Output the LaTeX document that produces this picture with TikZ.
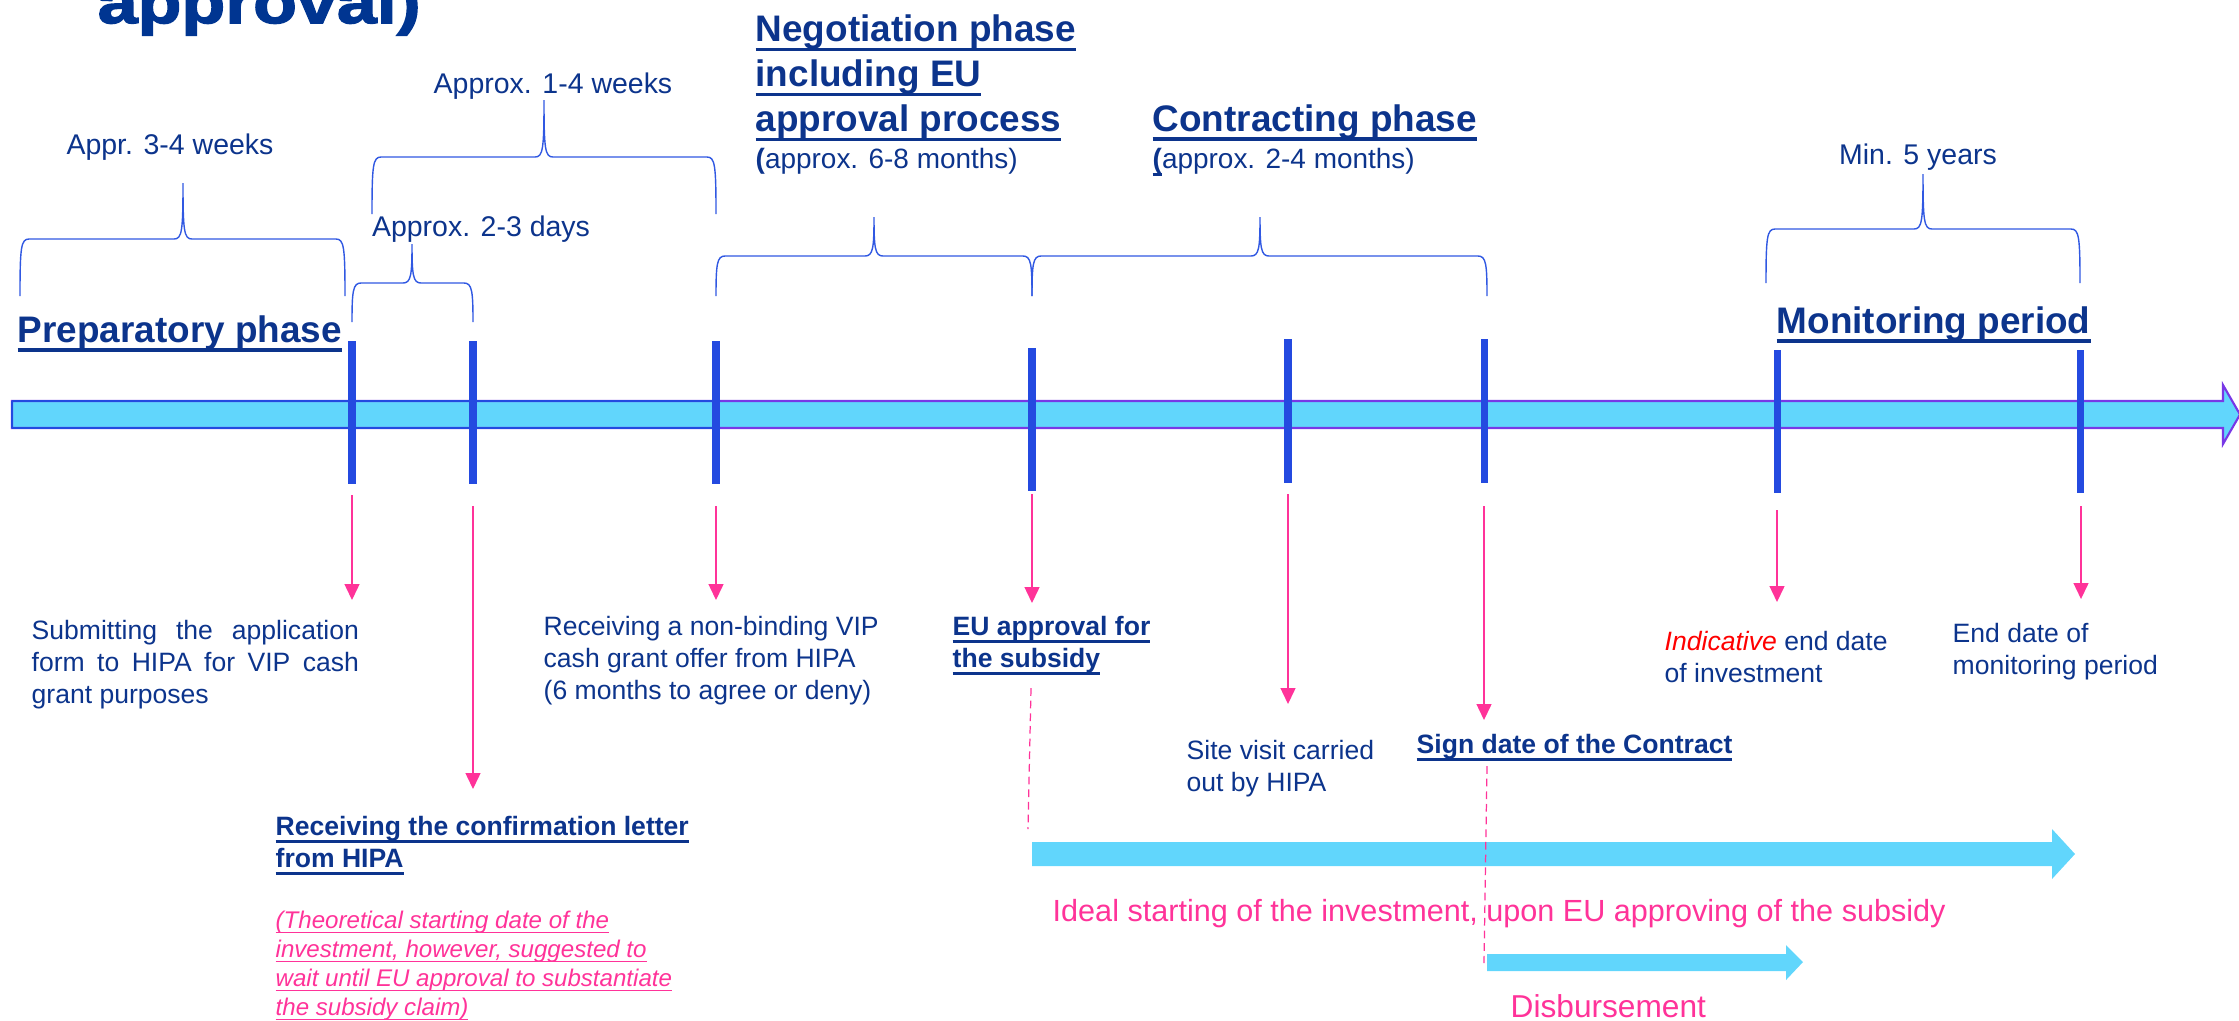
\documentclass[tikz,border=0pt]{standalone}
\usepackage{fontspec}
\setmainfont{Liberation Sans}
\newfontfamily\ttlfont[FakeStretch=1.2,FakeBold=2.5]{Liberation Sans Bold}
\usetikzlibrary{arrows.meta}
\definecolor{navy}{RGB}{12,52,140}
\definecolor{ttlblue}{RGB}{0,53,145}
\definecolor{tickblue}{RGB}{36,74,224}
\definecolor{brblue}{RGB}{48,88,226}
\definecolor{skyfill}{RGB}{97,214,252}
\definecolor{hotpink}{RGB}{255,51,153}
\definecolor{barline}{RGB}{120,56,230}
\tikzset{
  lbl/.style={inner sep=0pt,text=navy,anchor=base,font=\fontsize{8.1}{9.6}\selectfont},
  desc/.style={inner sep=0pt,text=navy,anchor=north west,align=left,font=\fontsize{7.55}{9.1}\selectfont},
  phase/.style={inner sep=0pt,text=navy,anchor=north west,align=left,font=\fontsize{10.5}{12.8}\selectfont\bfseries},
  phsub/.style={inner sep=0pt,text=navy,anchor=base west,font=\fontsize{7.95}{9.5}\selectfont},
  tick/.style={tickblue,line width=2pt},
  brc/.style={brblue,line width=0.4pt},
  pka/.style={hotpink,line width=0.4pt,-{Triangle[length=0.16cm,width=0.15cm]}},
  dsh/.style={hotpink,line width=0.35pt,dash pattern=on 2.2pt off 1.4pt},
  blk/.style={fill=skyfill,draw=none},
}
% underline with given thickness
\newcommand{\ulx}[2]{\setbox0\hbox{#2}\rlap{\vrule height -0.17em depth \dimexpr0.17em+#1\relax width \wd0}\box0}
% curly brace: x1, x2, tip x, bottom y, line y, tip y
\newcommand{\curly}[6]{%
  \draw[brc](#1,#4) .. controls (#1,#5+8) and (#1+1,#5) .. (#1+9,#5) -- (#3-9,#5)
    .. controls (#3-1,#5) and (#3,#5-8) .. (#3,#6)
    .. controls (#3,#5-8) and (#3+1,#5) .. (#3+9,#5) -- (#2-9,#5)
    .. controls (#2-1,#5) and (#2,#5+8) .. (#2,#4);}

\begin{document}
\begin{tikzpicture}[x=0.01cm,y=-0.01cm]
\useasboundingbox (0,0) rectangle (2239,1020);
\clip (0,0) rectangle (2239,1020);

% title, cut at the top
\node[anchor=base west,inner sep=0pt,text=ttlblue,font=\fontsize{17}{17}\ttlfont](ttl)at(97,23){approval)};

% phases
\node[anchor=base west,inner sep=0pt,text=navy,font=\fontsize{10.5}{12.8}\selectfont\bfseries](prep)at(17,342){\ulx{1pt}{Preparatory phase}};
\node[phase](negot)at(755,14){\ulx{1pt}{Negotiation phase}\\\ulx{1pt}{including EU}\\\ulx{1pt}{approval process}};
\node[phsub](negsub)at(755,168){\textbf{(}approx. 6-8 months)};
\node[anchor=base west,inner sep=0pt,text=navy,font=\fontsize{10.5}{12.8}\selectfont\bfseries](contr)at(1152,131){\ulx{1pt}{Contracting phase}};
\node[phsub](contrsub)at(1152,168){\ulx{0.8pt}{\textbf{(}}approx. 2-4 months)};
\node[anchor=base west,inner sep=0pt,text=navy,font=\fontsize{10.5}{12.8}\selectfont\bfseries](monit)at(1776,333){\ulx{1pt}{Monitoring period}};

% durations
\node[lbl](w34)at(170,154){Appr. 3-4 weeks};
\node[lbl](w14)at(553,93){Approx. 1-4 weeks};
\node[lbl](d23)at(481,236){Approx. 2-3 days};
\node[lbl](y5)at(1918,164){Min. 5 years};
\curly{20}{345}{183}{296}{239}{183}
\curly{372}{716}{544}{214}{157}{100}
\curly{352}{473}{412}{322}{283}{244}
\curly{716}{1032}{874}{296}{256}{217}
\curly{1032}{1487}{1260}{296}{256}{217}
\curly{1766}{2080}{1923}{283}{229}{174}

% time line
\draw[fill=skyfill,draw=barline,line width=0.6pt](12,401)--(2223,401)--(2223,385)--(2240,414.5)--(2223,444)--(2223,428)--(12,428)--cycle;
\begin{scope}
  \clip (0,380) rectangle (720,450);
  \draw[tickblue,line width=0.6pt](12,401)--(2223,401)(12,428)--(2223,428)(12,401)--(12,428);
\end{scope}
\foreach \x/\a/\b in {352/341/484,473/341/484,716/341/484,1032/348/491,1288/339/483,1484/339/483,1777/350/493,2080/350/493}
  \draw[tick](\x,\a)--(\x,\b);

% milestones
\foreach \x/\a/\b [count=\i] in {352/495/600,473/506/789,716/506/600,1032/494/603,1288/494/704,1484/506/720,1777/510/602,2081/506/599}{
  \coordinate(u\i)at(\x,\a);
  \coordinate(d\i)at(\x,\b);
  \draw[pka](u\i)--(d\i);
}

\node[desc](subm)at(31,620){\makebox[3.27cm][s]{Submitting the application}\\\makebox[3.27cm][s]{form to HIPA for VIP cash}\\grant purposes};
\node[desc](offer)at(543,616){Receiving a non-binding VIP\\cash grant offer from HIPA\\(6 months to agree or deny)};
\node[desc,font=\fontsize{7.55}{9.1}\selectfont\bfseries](euapp)at(952,616){\ulx{0.6pt}{EU approval for}\\\ulx{0.6pt}{the subsidy}};
\node[desc,font=\fontsize{7.55}{9.1}\selectfont\bfseries](conf)at(275,816){\ulx{0.6pt}{Receiving the confirmation letter}\\\ulx{0.6pt}{from HIPA}};
\node[desc,text=hotpink,font=\fontsize{6.85}{8.25}\selectfont\itshape](theo)at(275,910){\ulx{0.3pt}{(Theoretical starting date of the}\\\ulx{0.3pt}{investment, however, suggested to}\\\ulx{0.3pt}{wait until EU approval to substantiate}\\\ulx{0.3pt}{the subsidy claim)}};
\node[desc](site)at(1186,740){Site visit carried\\out by HIPA};
\node[desc,font=\fontsize{7.55}{9.1}\selectfont\bfseries](sign)at(1416,734){\ulx{0.6pt}{Sign date of the Contract}};
\node[desc](indic)at(1664,631){\textcolor{red}{\itshape Indicative} end date\\of investment};
\node[desc](endmon)at(1952,623){End date of\\monitoring period};

% investment and disbursement
\coordinate(ea)at(1031,688);
\coordinate(eb)at(1028,829);
\draw[dsh](ea)--(eb);
\fill[blk](1032,842)--(2052,842)--(2052,829)--(2075,854)--(2052,879)--(2052,866)--(1032,866)--cycle;
\node[anchor=base west,inner sep=0pt,text=hotpink,font=\fontsize{8.7}{10}\selectfont](ideal)at(1052,921){Ideal starting of the investment, upon EU approving of the subsidy};
\coordinate(sa)at(1487,766);
\coordinate(sb)at(1484,963);
\fill[blk](1487,954)--(1786,954)--(1786,945)--(1803,962)--(1786,980)--(1786,971)--(1487,971)--cycle;
\draw[dsh](sa)--(sb);
\node[anchor=base west,inner sep=0pt,text=hotpink,font=\fontsize{9}{10}\selectfont](disb)at(1510,1017){Disbursement};

\end{tikzpicture}
\end{document}
